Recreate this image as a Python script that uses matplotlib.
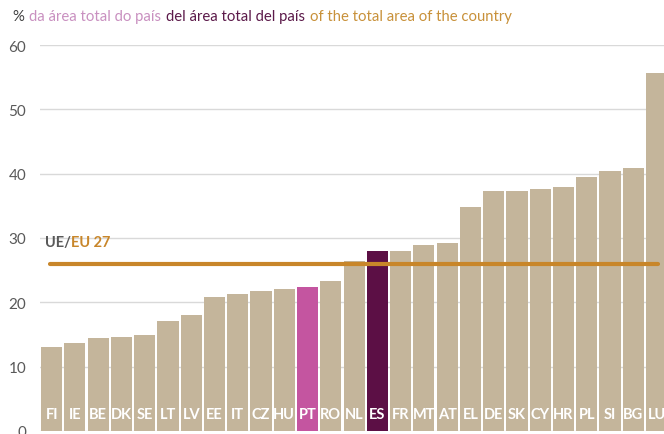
import matplotlib
matplotlib.use("Agg")
import matplotlib.pyplot as plt

plt.rcParams['font.family'] = ['Lato', 'DejaVu Sans']

COUNTRIES = ["FI", "IE", "BE", "DK", "SE", "LT", "LV", "EE", "IT", "CZ", "HU",
             "PT", "RO", "NL", "ES", "FR", "MT", "AT", "EL", "DE", "SK", "CY",
             "HR", "PL", "SI", "BG", "LU"]
VALUES = [13.1, 13.7, 14.5, 14.6, 14.9, 17.1, 18.0, 20.8, 21.3, 21.8, 22.1,
          22.4, 23.3, 26.4, 28.0, 28.0, 28.9, 29.2, 34.8, 37.3, 37.3, 37.6,
          37.9, 39.5, 40.4, 40.9, 55.7]
EU27 = 26.0
YTICKS = [0, 10, 20, 30, 40, 50, 60]

BAR = "#C4B59B"
PT_COL = "#C455A0"
ES_COL = "#5C0F45"
EU_COL = "#C8862A"
GREY = "#595959"


def chain(fig, x0, y0, parts, gap, **kw):
    """write text pieces one after another, in pixels"""
    r = fig.canvas.get_renderer()
    x = x0
    for s, col in parts:
        t = fig.text(x / 664, 1 - y0 / 435, s, color=col, va="center", **kw)
        bb = t.get_window_extent(renderer=r)
        x = x + bb.width + gap


colors = []
for c in COUNTRIES:
    if c == "PT":
        colors.append(PT_COL)
    elif c == "ES":
        colors.append(ES_COL)
    else:
        colors.append(BAR)

fig = plt.figure(figsize=(6.64, 4.35), dpi=100)
ax = fig.add_axes([40 / 664, 3 / 435, 624 / 664, 386 / 435])

x = list(range(len(COUNTRIES)))
ax.bar(x, VALUES, width=0.91, color=colors, zorder=2)
for i, c in enumerate(COUNTRIES):
    ax.text(i, 2.6, c, ha="center", va="center", color="white",
            fontsize=10.5, fontweight="bold", zorder=3)

ax.axhline(EU27, xmin=10 / 624, xmax=618 / 624, color=EU_COL, lw=3,
           solid_capstyle="round", zorder=4)

ax.set_xlim(-0.5, 26.32)
ax.set_ylim(0, 60)
ax.set_yticks(YTICKS)
ax.set_xticks([])
ax.yaxis.grid(True, color="#D9D9D9", lw=1, zorder=0)
ax.set_axisbelow(True)
for s in ax.spines.values():
    s.set_visible(False)
ax.tick_params(axis="y", length=0, labelsize=11, labelcolor=GREY, pad=10)

chain(fig, 45, 243, [("UE/", GREY), ("EU 27", EU_COL)], 0,
      fontsize=10.5, fontweight="bold")
chain(fig, 12, 17, [("%", "#404040"), ("da área total do país", "#C990C0"),
                    ("del área total del país", "#5C1A4A"),
                    ("of the total area of the country", "#C8913A")], 5,
      fontsize=10.7)

fig.savefig("out.png", dpi=100)
